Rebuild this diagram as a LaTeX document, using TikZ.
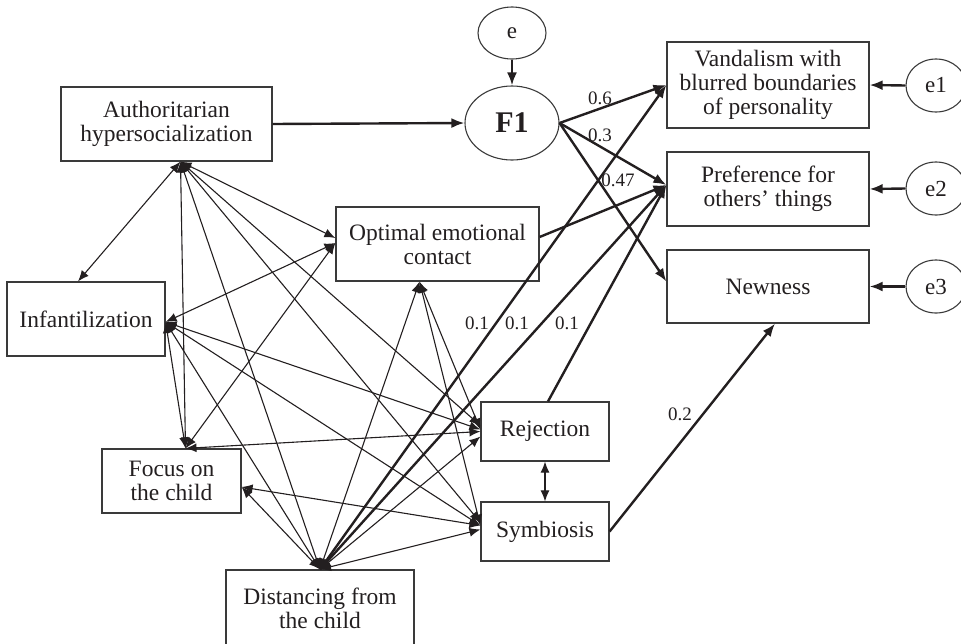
\documentclass[tikz,border=0pt]{standalone}
\usepackage{fontspec}
\setmainfont{Liberation Serif}
\usetikzlibrary{arrows.meta,calc,shapes.geometric}
\definecolor{txt}{HTML}{231F20}
\definecolor{linec}{HTML}{231F20}
\definecolor{boxc}{HTML}{3A3A3A}
\begin{document}
\begin{tikzpicture}[x=1pt,y=-1pt,
  box/.style={draw=boxc, line width=1.2pt, rectangle, align=center, inner sep=0pt,
              font=\fontsize{23.5}{24}\selectfont, text=txt},
  oval/.style={draw=boxc, line width=1.1pt, ellipse, inner sep=0pt,
               font=\fontsize{23}{24}\selectfont, text=txt},
  corr/.style={line width=1.1pt, draw=linec,
               {Latex[length=11pt,width=9pt]}-{Latex[length=11pt,width=9pt]}},
  reg/.style={line width=2.4pt, draw=linec, -{Latex[length=13pt,width=10pt]}},
  coef/.style={font=\fontsize{19}{20}\selectfont, text=txt, inner sep=1pt}
]
\useasboundingbox (0,0) rectangle (961,643);
\clip (0,0) rectangle (961,643);

% nodes
\node[box, minimum width=211pt, minimum height=74pt] (A) at (166.5,124) {Authoritarian\\hypersocialization};
\node[box, minimum width=203pt, minimum height=74pt] (O) at (437.5,244) {Optimal emotional\\contact};
\node[box, minimum width=158pt, minimum height=74pt] (I) at (86,319) {Infantilization};
\node[box, minimum width=139pt, minimum height=64pt] (F) at (171.5,481) {Focus on\\the child};
\node[box, minimum width=188pt, minimum height=77pt] (D) at (320,608.5) {Distancing from\\the child};
\node[box, minimum width=128pt, minimum height=59pt] (R) at (545,431.5) {Rejection};
\node[box, minimum width=128pt, minimum height=59pt] (S) at (545,531.5) {Symbiosis};
\node[box, minimum width=202pt, minimum height=86pt] (V) at (768,85) {Vandalism with\\blurred boundaries\\of personality};
\node[box, minimum width=202pt, minimum height=74pt] (P) at (768,189) {Preference for\\others’ things};
\node[box, minimum width=202pt, minimum height=73pt] (N) at (768,286.5) {Newness};

\node[oval, minimum width=68pt, minimum height=52pt] (e) at (512,33) {e};
\node[oval, minimum width=94pt, minimum height=74pt, font=\fontsize{30}{30}\selectfont\bfseries] (F1) at (512,123) {F1};
\node[oval, minimum width=60pt, minimum height=53pt] (e1) at (936,85.5) {e1};
\node[oval, minimum width=60pt, minimum height=53pt] (e2) at (936,188.5) {e2};
\node[oval, minimum width=60pt, minimum height=53pt] (e3) at (936,286.5) {e3};

% fan points on the borders
\coordinate (Afan) at ($(A.south)+(14,0)$);
\coordinate (Ifan) at ($(I.east)+(0,3)$);
\coordinate (Ow) at ($(O.west)+(0,-1)$);
\coordinate (Os) at ($(O.south)+(-18,0)$);
\coordinate (Ft) at ($(F.north)+(14,0)$);
\coordinate (Fr) at ($(F.east)+(0,6)$);
\coordinate (Rw) at ($(R.west)+(0,-2)$);
\coordinate (Sw) at ($(S.west)+(0,-6)$);
\coordinate (Dt) at (D.north);
\coordinate (Pw) at ($(P.west)+(0,-4)$);

% correlations
\draw[corr] (Afan) -- ($(I.north)+(-8,0)$);
\draw[corr] (Afan) -- ($(O.west)+(0,-6)$);
\draw[corr] (Afan) -- (Ft);
\draw[corr] (Afan) -- ($(R.west)+(0,-6)$);
\draw[corr] (Afan) -- ($(S.west)+(0,-9)$);
\draw[corr] (Afan) -- (Dt);
\draw[corr] (Ifan) -- (Ow);
\draw[corr] (Ifan) -- (Ft);
\draw[corr] (Ifan) -- (Rw);
\draw[corr] (Ifan) -- (Sw);
\draw[corr] (Ifan) -- (Dt);
\draw[corr] (Ow) -- (Ft);
\draw[corr] (Os) -- (Rw);
\draw[corr] (Os) -- (Sw);
\draw[corr] (Os) -- (Dt);
\draw[corr] (Ft) -- (R.west);
\draw[corr] (Fr) -- (Sw);
\draw[corr] (Fr) -- (Dt);
\draw[corr] (Dt) -- ($(R.west)+(0,5)$);
\draw[corr] (Dt) -- ($(S.west)+(0,-2)$);
\draw[corr] (R.south) -- (S.north);

% regression paths
\draw[reg] (A.east) -- (F1.west);
\draw[reg] (e.south) -- (F1.north);
\draw[reg] (F1.east) -- (V.west);
\draw[reg] (F1.east) -- (Pw);
\draw[reg] (F1.east) -- ($(N.west)+(0,-5)$);
\draw[reg] ($(O.east)+(0,-7)$) -- (Pw);
\draw[reg] (Dt) -- (V.west);
\draw[reg] (Dt) -- (Pw);
\draw[reg] ($(R.north)+(3,0)$) -- (Pw);
\draw[reg] (S.east) -- ($(N.south)+(7,0)$);
\draw[reg] (e1.west) -- (V.east);
\draw[reg] (e2.west) -- (P.east);
\draw[reg] (e3.west) -- (N.east);

% coefficients
\node[coef] (c06) at (600,98) {0.6};
\node[coef] (c03) at (600,135) {0.3};
\node[coef] (c047) at (618,180) {0.47};
\node[coef] (c01a) at (477,323) {0.1};
\node[coef] (c01b) at (517,323) {0.1};
\node[coef] (c01c) at (567,323) {0.1};
\node[coef] (c02) at (680,414) {0.2};
\end{tikzpicture}
\end{document}
